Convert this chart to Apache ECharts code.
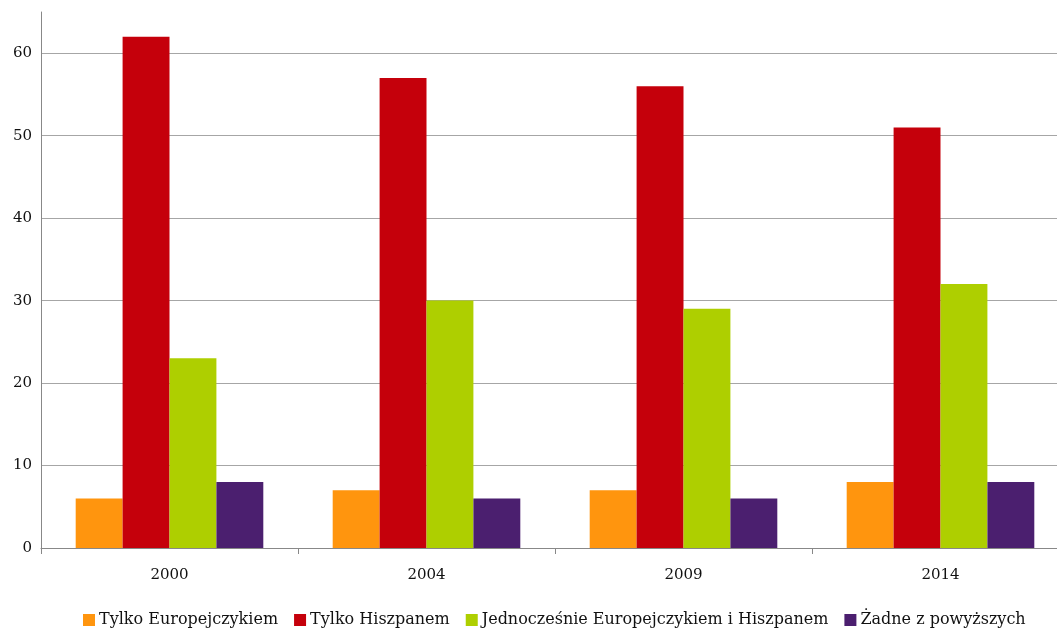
<!DOCTYPE html>
<html><head><meta charset="utf-8">
<script src="https://cdn.jsdelivr.net/npm/echarts@6/dist/echarts.min.js"></script>
<style>html,body{margin:0;padding:0;background:#fff;overflow:hidden;width:1057px;height:628px}#c{width:1069px;height:628px}</style>
</head><body><div id="c"></div>
<script>
const categories = ['2000', '2004', '2009', '2014'];
const seriesNames = ['Tylko Europejczykiem', 'Tylko Hiszpanem', 'Jednocześnie Europejczykiem i Hiszpanem', 'Żadne z powyższych'];
const tylkoEuropejczykiem = [6, 7, 7, 8];
const tylkoHiszpanem = [62, 57, 56, 51];
const jednoczesnie = [23, 30, 29, 32];
const zadne = [8, 6, 6, 8];
const yTicks = [0, 10, 20, 30, 40, 50, 60];

const colors = ['#ff950e', '#c5000b', '#aecf00', '#4b1f6f'];
const font = '"DejaVu Serif", "Liberation Serif", serif';
const values = [tylkoEuropejczykiem, tylkoHiszpanem, jednoczesnie, zadne];

const chart = echarts.init(document.getElementById('c'));
chart.setOption({
  animation: false,
  color: colors,
  textStyle: { fontFamily: font },
  legend: {
    top: 607,
    left: 78,
    itemWidth: 12,
    itemHeight: 12,
    itemGap: 16,
    icon: 'rect',
    textStyle: { fontFamily: font, fontSize: 16, color: '#111', padding: [0, 0, 0, -1] },
    data: seriesNames
  },
  grid: { left: 41, right: 0, top: 12, bottom: 80, containLabel: false },
  xAxis: {
    type: 'category',
    data: categories,
    axisLine: { lineStyle: { color: '#888', width: 1 } },
    axisTick: { show: true, length: 6, lineStyle: { color: '#888' } },
    axisLabel: { fontFamily: font, fontSize: 15, color: '#111', margin: 20 }
  },
  yAxis: {
    type: 'value',
    min: 0,
    max: 65,
    interval: 10,
    axisLine: { show: true, lineStyle: { color: '#888' } },
    axisTick: { show: false },
    axisLabel: { fontFamily: font, fontSize: 15, color: '#111', margin: 9, showMaxLabel: false,
      formatter: v => yTicks.includes(v) ? String(v) : '' },
    splitLine: { show: true, showMaxLine: false, lineStyle: { color: '#a6a6a6', width: 1 } }
  },
  series: seriesNames.map((n, i) => ({
    name: n,
    type: 'bar',
    data: values[i],
    barGap: '0%',
    barCategoryGap: '27%'
  }))
});
</script></body></html>
